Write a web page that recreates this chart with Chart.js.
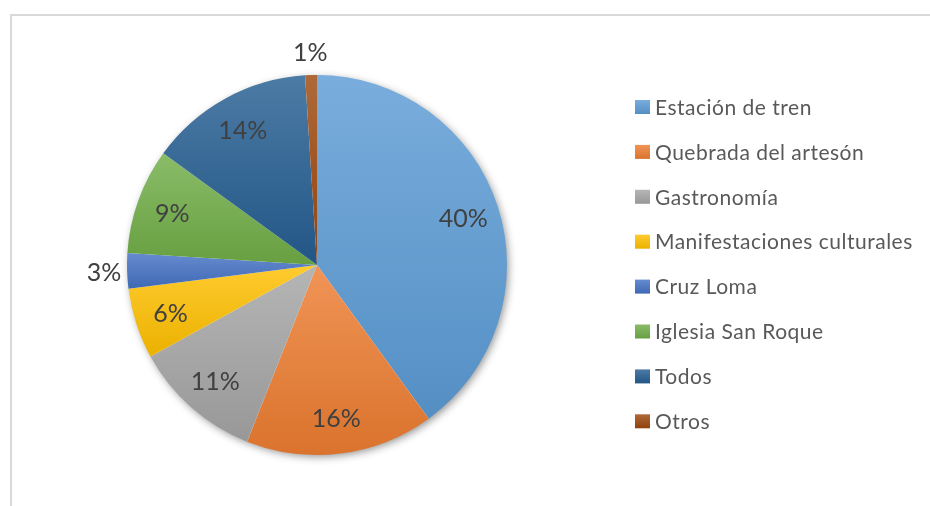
<!DOCTYPE html>
<html>
<head>
<meta charset="utf-8">
<script src="https://cdn.jsdelivr.net/npm/chart.js@4.4.1/dist/chart.umd.min.js"></script>
<style>
  html, body { margin: 0; padding: 0; background: #fff; overflow: hidden; }
  #wrap { position: relative; width: 930px; height: 506px; }
  #frame { position: absolute; left: 10px; top: 14px; width: 1000px; height: 1000px; border: 2px solid #d9d9d9; }
  canvas { position: absolute; left: 0; top: 0; }
</style>
</head>
<body>
<div id="wrap">
  <div id="frame"></div>
  <canvas id="pieChart" width="930" height="506"></canvas>
</div>
<script>
const categories = [
  "Estación de tren",
  "Quebrada del artesón",
  "Gastronomía",
  "Manifestaciones culturales",
  "Cruz Loma",
  "Iglesia San Roque",
  "Todos",
  "Otros",
];
const shares = [40, 16, 11, 6, 3, 9, 14, 1];
const sliceColors = ["#5B9BD5", "#ED7D31", "#A5A5A5", "#FFC000", "#4472C4", "#70AD47", "#255E91", "#9E480E"];

const FONT = "Lato, 'Noto Sans', sans-serif";

function mix(hex, target, t) {
  const a = parseInt(hex.slice(1), 16);
  const b = parseInt(target.slice(1), 16);
  const ch = (v, s) => (v >> s) & 255;
  const out = [16, 8, 0].map((s) => Math.round(ch(a, s) + (ch(b, s) - ch(a, s)) * t));
  return "rgb(" + out.join(",") + ")";
}

function pieGeometry(chart) {
  const area = chart.chartArea;
  return {
    cx: (area.left + area.right) / 2,
    cy: (area.top + area.bottom) / 2,
    r: Math.min(area.right - area.left, area.bottom - area.top) / 2,
  };
}

function sliceAngles(idx) {
  const total = shares.reduce((a, b) => a + b, 0);
  let before = 0;
  for (let i = 0; i < idx; i++) before += shares[i];
  const a0 = -Math.PI / 2 + (before / total) * Math.PI * 2;
  const a1 = a0 + (shares[idx] / total) * Math.PI * 2;
  return [a0, a1];
}

function sliceFill(context) {
  const chart = context.chart;
  const base = sliceColors[context.dataIndex];
  if (!chart.chartArea) return base;
  const { cy, r } = pieGeometry(chart);
  const [a0, a1] = sliceAngles(context.dataIndex);
  const ys = [cy, cy + r * Math.sin(a0), cy + r * Math.sin(a1)];
  [-Math.PI / 2, Math.PI / 2, Math.PI * 1.5].forEach((k) => {
    if (k >= a0 && k <= a1) ys.push(cy + r * Math.sin(k));
  });
  const g = chart.ctx.createLinearGradient(0, Math.min(...ys), 0, Math.max(...ys));
  g.addColorStop(0, mix(base, "#ffffff", 0.18));
  g.addColorStop(1, mix(base, "#000000", 0.08));
  return g;
}

// soft shadow behind the pie
const pieShadow = {
  id: "pieShadow",
  beforeDatasetsDraw(chart) {
    const { cx, cy, r } = pieGeometry(chart);
    const ctx = chart.ctx;
    ctx.save();
    ctx.shadowColor = "rgba(0,0,0,0.45)";
    ctx.shadowBlur = 8;
    ctx.shadowOffsetX = 2;
    ctx.shadowOffsetY = 2.5;
    ctx.fillStyle = "#ffffff";
    ctx.beginPath();
    ctx.arc(cx, cy, r - 1, 0, Math.PI * 2);
    ctx.fill();
    ctx.restore();
  },
};

// percentage labels
const sliceLabels = {
  id: "sliceLabels",
  afterDatasetsDraw(chart) {
    const { cx, cy, r } = pieGeometry(chart);
    const ctx = chart.ctx;
    ctx.save();
    ctx.font = "25px " + FONT;
    ctx.fillStyle = "#404040";
    ctx.textAlign = "center";
    ctx.textBaseline = "middle";
    shares.forEach((v, i) => {
      const [a0, a1] = sliceAngles(i);
      const mid = (a0 + a1) / 2;
      const dist = v < 5 ? r + 23 : r * 0.81;
      ctx.fillText(v + "%", cx + Math.cos(mid) * dist, cy + Math.sin(mid) * dist + 1);
    });
    ctx.restore();
  },
};

// legend on the right
const sideLegend = {
  id: "sideLegend",
  afterDraw(chart) {
    const ctx = chart.ctx;
    const x = 635, y0 = 107, step = 44.9;
    ctx.save();
    ctx.font = "21px " + FONT;
    ctx.letterSpacing = "0.5px";
    ctx.textAlign = "left";
    ctx.textBaseline = "middle";
    categories.forEach((name, i) => {
      const y = y0 + i * step;
      const g = ctx.createLinearGradient(0, y - 7, 0, y + 7);
      g.addColorStop(0, mix(sliceColors[i], "#ffffff", 0.18));
      g.addColorStop(1, mix(sliceColors[i], "#000000", 0.08));
      ctx.fillStyle = g;
      ctx.fillRect(x, y - 7, 15, 14);
      ctx.fillStyle = "#595959";
      ctx.fillText(name, x + 20, y + 1);
    });
    ctx.restore();
  },
};

new Chart(document.getElementById("pieChart"), {
  type: "pie",
  data: {
    labels: categories,
    datasets: [
      {
        data: shares,
        backgroundColor: sliceFill,
        borderWidth: 0,
      },
    ],
  },
  options: {
    responsive: false,
    devicePixelRatio: 1,
    animation: false,
    layout: { padding: { left: 127, right: 423, top: 75, bottom: 51 } },
    plugins: {
      legend: { display: false },
      tooltip: { enabled: false },
    },
  },
  plugins: [pieShadow, sliceLabels, sideLegend],
});
</script>
</body>
</html>
